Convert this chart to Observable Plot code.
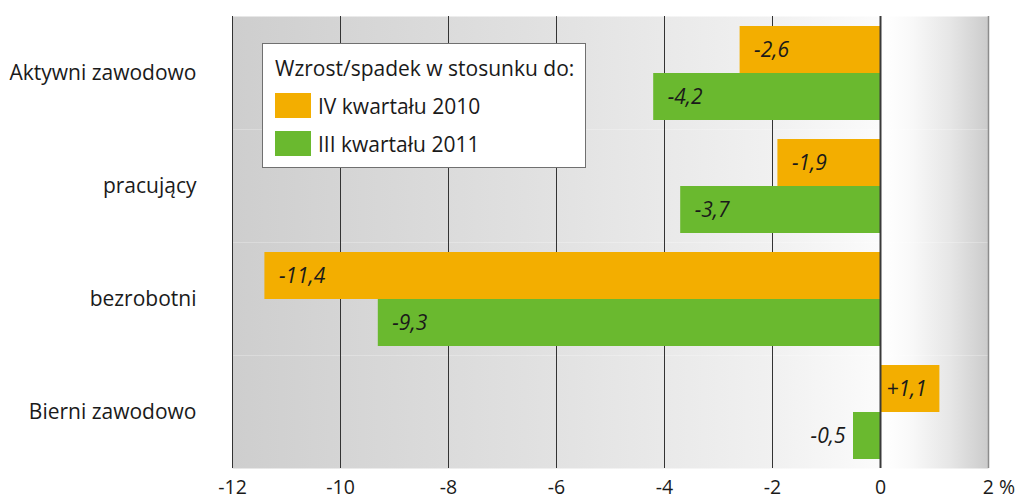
<!DOCTYPE html>
<html>
<head>
<meta charset="utf-8">
<script src="https://cdn.jsdelivr.net/npm/d3@7"></script>
<script src="https://cdn.jsdelivr.net/npm/@observablehq/plot@0.6"></script>
<style>
  html, body { margin: 0; padding: 0; background: #fff; }
  #wrap { position: relative; width: 1019px; height: 502px; font-family: "Open Sans", sans-serif; color: #1a1a1a; }
  #legend { position: absolute; left: 262px; top: 43px; width: 322px; height: 123px; background: #fff; border: 1px solid #707070; box-sizing: content-box; }
  #legend .title { position: absolute; left: 12px; top: 11px; font-size: 21px; line-height: 26px; white-space: nowrap; }
  #legend .row { position: absolute; left: 12px; height: 25px; display: flex; align-items: center; font-size: 21px; white-space: nowrap; }
  #legend .sw { width: 36px; height: 25px; margin-right: 7px; }
</style>
</head>
<body>
<div id="wrap"></div>
<script>
const categories = ["Aktywni zawodowo", "pracujący", "bezrobotni", "Bierni zawodowo"];
const seriesNames = ["IV kwartału 2010", "III kwartału 2011"];
const seriesColors = ["#f3ae00", "#6ab92f"];
const valuesIV2010 = [-2.6, -1.9, -11.4, 1.1];
const valuesIII2011 = [-4.2, -3.7, -9.3, -0.5];
const xTicks = [-12, -10, -8, -6, -4, -2, 0, 2];
const legendTitle = "Wzrost/spadek w stosunku do:";

const rows = [];
categories.forEach((c, i) => {
  rows.push({cat: c, series: seriesNames[0], value: valuesIV2010[i]});
  rows.push({cat: c, series: seriesNames[1], value: valuesIII2011[i]});
});
const fmt = v => (v > 0 ? "+" : "") + v.toFixed(1).replace(".", ",");
const insideNeg = rows.filter(d => d.value < 0 && Math.abs(d.value) >= 1);
const outsideNeg = rows.filter(d => d.value < 0 && Math.abs(d.value) < 1);
const positive = rows.filter(d => d.value > 0);

const tickFmt = d => d === 2 ? "\u2002\u2007" + "2 %" : String(d);

const chart = Plot.plot({
  width: 1019,
  height: 502,
  marginLeft: 232,
  marginRight: 31,
  marginTop: 15,
  marginBottom: 33,
  style: {fontFamily: "Open Sans, sans-serif", fontSize: "21px", color: "#1a1a1a", background: "transparent"},
  x: {domain: [-12, 2], axis: null},
  y: {domain: seriesNames, axis: null, paddingInner: 0, paddingOuter: 0.182},
  fy: {domain: categories, padding: 0, label: null, axis: null},
  color: {domain: seriesNames, range: seriesColors},
  marks: [
    Plot.frame({fill: "url(#bgGrad)", stroke: "none"}),
    Plot.ruleX(xTicks.filter(t => t !== 0 && t !== 2), {stroke: "#333", strokeWidth: 1}),
    Plot.ruleX([2], {stroke: "#8c8c8c", strokeWidth: 1.5}),
    Plot.barX(rows, {x: "value", y: "series", fy: "cat", fill: "series"}),
    Plot.ruleX([0], {stroke: "#3a3a3a", strokeWidth: 2}),
    Plot.text(insideNeg, {x: "value", y: "series", fy: "cat", text: d => fmt(d.value), textAnchor: "start", dx: 14, fontStyle: "italic", fill: "#1a1a1a", fontSize: 21}),
    Plot.text(outsideNeg, {x: "value", y: "series", fy: "cat", text: d => fmt(d.value), textAnchor: "end", dx: -8, fontStyle: "italic", fill: "#1a1a1a", fontSize: 21}),
    Plot.text(positive, {x: 0, y: "series", fy: "cat", text: d => fmt(d.value), textAnchor: "start", dx: 6, fontStyle: "italic", fill: "#1a1a1a", fontSize: 21}),
    Plot.axisFy({anchor: "left", tickSize: 0, tickPadding: 36, label: null, fontSize: 21}),
    Plot.axisX({anchor: "bottom", ticks: xTicks, tickSize: 0, tickPadding: 12, tickFormat: tickFmt, label: null, fontSize: 19.5, facetAnchor: "bottom"})
  ]
});

const svg = d3.select(chart);
const defs = svg.insert("defs", ":first-child");
const g = defs.append("linearGradient").attr("id", "bgGrad").attr("x1", "0").attr("x2", "1").attr("y1", "0").attr("y2", "0");
[[0, "#cecece"], [0.43, "#e2e2e2"], [0.72, "#f1f1f1"], [0.855, "#fbfbfb"], [0.862, "#ffffff"], [0.9, "#f8f8f8"], [0.95, "#e6e6e6"], [1, "#cbcbcb"]]
  .forEach(([o, c]) => g.append("stop").attr("offset", o).attr("stop-color", c));

const wrap = document.getElementById("wrap");
wrap.appendChild(chart);

const legend = document.createElement("div");
legend.id = "legend";
const t = document.createElement("div");
t.className = "title";
t.textContent = legendTitle;
legend.appendChild(t);
seriesNames.forEach((s, i) => {
  const r = document.createElement("div");
  r.className = "row";
  r.style.top = (49 + i * 38) + "px";
  const sw = document.createElement("div");
  sw.className = "sw";
  sw.style.background = seriesColors[i];
  r.appendChild(sw);
  const l = document.createElement("span");
  l.textContent = s;
  r.appendChild(l);
  legend.appendChild(r);
});
wrap.appendChild(legend);
</script>
</body>
</html>
